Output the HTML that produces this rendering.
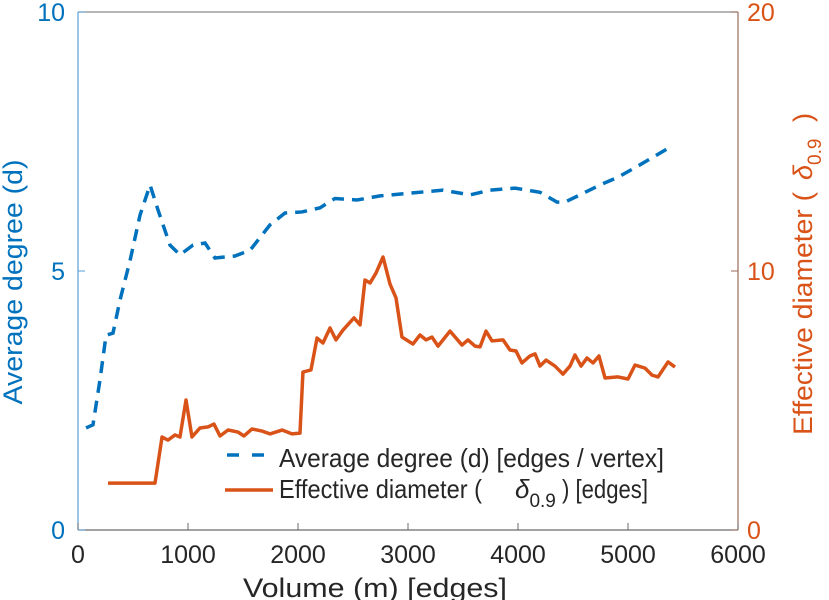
<!DOCTYPE html>
<html><head><meta charset="utf-8"><style>
body{margin:0;background:#fff;overflow:hidden;}
svg{display:block;}
svg text{font-family:"Liberation Sans",sans-serif;}
</style></head><body>
<svg id="chart" width="829" height="600" viewBox="0 0 829 600">
<g id="axes"></g>
<g id="marks"></g>
<g id="legend">
 <line x1="227" y1="455" x2="270" y2="455" stroke="#0072BD" stroke-width="3.5" stroke-dasharray="12,13"/>
 <text x="279" y="467" font-size="26" fill="#262626" textLength="385" lengthAdjust="spacingAndGlyphs">Average degree (d) [edges / vertex]</text>
 <line x1="225" y1="490" x2="273" y2="490" stroke="#D95319" stroke-width="3.5"/>
 <text x="279" y="498" font-size="26" fill="#262626"><tspan textLength="203" lengthAdjust="spacingAndGlyphs">Effective diameter (</tspan><tspan x="515" font-style="italic">δ</tspan><tspan font-size="19" dy="9">0.9</tspan><tspan dy="-9" x="562" textLength="86" lengthAdjust="spacingAndGlyphs">) [edges]</tspan></text>
</g>
</svg>
<script>
const xTicks=[0,1000,2000,3000,4000,5000,6000];
const leftTicks=[0,5,10];
const rightTicks=[0,10,20];
const degX=[73,136,200,255,318,382,473,564,655,727,836,927,1045,1155,1245,1427,1564,1745,1882,2036,2200,2336,2536,2745,3000,3318,3564,3745,3973,4200,4355,4427,4564,4745,4909,5109,5382,5400];
const degY=[1.97,2.03,2.9,3.76,3.8,4.44,5.2,6.08,6.66,6.18,5.5,5.31,5.5,5.54,5.25,5.29,5.4,5.89,6.12,6.14,6.22,6.4,6.37,6.45,6.5,6.56,6.47,6.56,6.6,6.52,6.33,6.33,6.47,6.66,6.81,7.05,7.39,7.43];
const diaX=[273,700,764,818,882,927,982,1036,1109,1182,1236,1291,1364,1455,1509,1582,1673,1745,1855,1945,2018,2045,2118,2173,2227,2291,2345,2409,2509,2564,2609,2655,2709,2773,2836,2891,2945,3045,3109,3164,3218,3273,3382,3491,3545,3609,3655,3709,3764,3864,3927,3982,4036,4109,4155,4200,4255,4336,4409,4473,4518,4573,4627,4682,4736,4791,4909,5000,5064,5155,5218,5273,5364,5427];
const diaY=[1.81,1.81,3.59,3.47,3.67,3.59,5.02,3.59,3.94,3.98,4.09,3.63,3.86,3.78,3.63,3.9,3.82,3.71,3.86,3.71,3.74,6.1,6.18,7.41,7.22,7.8,7.34,7.72,8.19,7.92,9.65,9.54,9.92,10.54,9.5,8.96,7.45,7.18,7.53,7.34,7.45,7.1,7.68,7.14,7.34,7.1,7.07,7.68,7.3,7.34,6.95,6.91,6.45,6.72,6.8,6.33,6.56,6.33,6.02,6.33,6.76,6.33,6.64,6.45,6.72,5.87,5.91,5.83,6.37,6.25,5.98,5.91,6.49,6.29];
const X0=78,X1=738,Y0=530,Y1=12;
const sx=v=>X0+(v/6000)*(X1-X0);
const syL=v=>Y0-(v/10)*(Y0-Y1);
const syR=v=>Y0-(v/20)*(Y0-Y1);
const NS='http://www.w3.org/2000/svg';
function mk(tag,attrs,parent){const e=document.createElementNS(NS,tag);for(const k in attrs)e.setAttribute(k,attrs[k]);parent.appendChild(e);return e;}
const axes=document.getElementById('axes'),marks=document.getElementById('marks');
let e;
e=mk('line',{x1:X0,y1:Y1,x2:X1,y2:Y1,stroke:'#8a8a8a','stroke-width':1.2},axes);


e=mk('line',{x1:X0,y1:Y0,x2:X1,y2:Y0,stroke:'#6a6a6a','stroke-width':1.2},axes);


e=mk('line',{x1:X0,y1:Y0,x2:X0,y2:Y1,stroke:'#5aa0d8','stroke-width':1.2},axes);


e=mk('line',{x1:X1,y1:Y0,x2:X1,y2:Y1,stroke:'#9a6a5a','stroke-width':1.2},axes);


xTicks.forEach(t=>{
 const x=sx(t);
 e=mk('line',{x1:x,y1:Y0,x2:x,y2:Y0-7,stroke:'#6a6a6a'},axes);
 
 
 e=mk('text',{x:x,y:563,'text-anchor':'middle','font-size':25,fill:'#262626'},axes);e.textContent=t;
 
 
});
leftTicks.forEach(t=>{
 const y=syL(t);
 e=mk('line',{x1:X0,y1:y,x2:X0+7,y2:y,stroke:'#5aa0d8'},axes);
 
 
 e=mk('text',{x:X0-13,y:y+9,'text-anchor':'end','font-size':25,fill:'#0072BD'},axes);e.textContent=t;
 
 
});
rightTicks.forEach(t=>{
 const y=syR(t);
 e=mk('line',{x1:X1,y1:y,x2:X1-7,y2:y,stroke:'#9a6a5a'},axes);
 
 
 e=mk('text',{x:X1+9,y:y+9,'text-anchor':'start','font-size':25,fill:'#D95319'},axes);e.textContent=t;
 
 
});
e=mk('text',{x:375,y:597,'text-anchor':'middle','font-size':27,fill:'#262626',textLength:264,lengthAdjust:'spacingAndGlyphs'},axes);e.textContent='Volume (m) [edges]';


e=mk('text',{x:22,y:282,'text-anchor':'middle','font-size':27,fill:'#0072BD',transform:'rotate(-90 22 282)',textLength:245,lengthAdjust:'spacingAndGlyphs'},axes);e.textContent='Average degree (d)';


e=mk('text',{x:812,y:435,'text-anchor':'start','font-size':27,fill:'#D95319',transform:'rotate(-90 812 435)'},axes);
e.innerHTML='<tspan textLength="243" lengthAdjust="spacingAndGlyphs">Effective diameter (</tspan><tspan x="1067" font-style="italic">δ</tspan><tspan font-size="19" dy="9">0.9</tspan><tspan dy="-9" x="1125">)</tspan>';


e=mk('polyline',{points:degX.map((v,i)=>sx(v)+','+syL(degY[i])).join(' '),fill:'none',stroke:'#0072BD','stroke-width':3.5,'stroke-dasharray':'12,8'},marks);


e=mk('polyline',{points:diaX.map((v,i)=>sx(v)+','+syR(diaY[i])).join(' '),fill:'none',stroke:'#D95319','stroke-width':3.5,'stroke-linejoin':'round'},marks);


</script>
</body></html>
